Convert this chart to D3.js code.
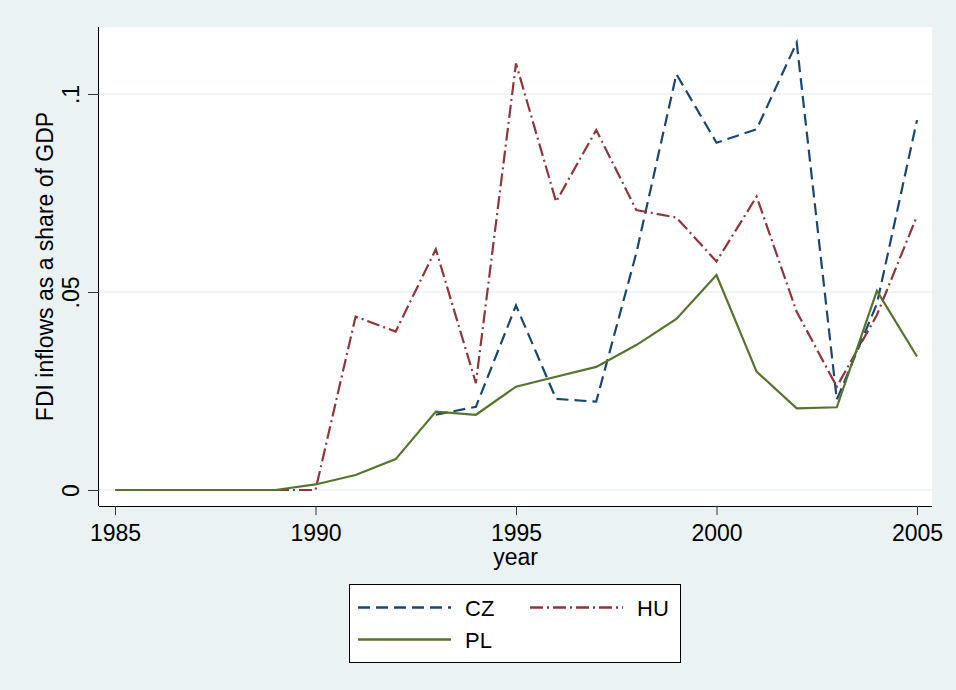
<!DOCTYPE html>
<html><head><meta charset="utf-8">
<script src="https://cdn.jsdelivr.net/npm/d3@7"></script>
<style>body{margin:0;background:#eaf2f3;} svg{display:block;}</style>
</head><body>
<svg id="c" width="956" height="690"></svg>
<script>
const years = d3.range(1985, 2006);
const czYears = [1993,1994,1995,1996,1997,1998,1999,2000,2001,2002,2003,2004,2005];
const czValues = [0.019,0.021,0.0466,0.023,0.0223,0.0598,0.105,0.0877,0.0911,0.113,0.0228,0.047,0.0934];
const huValues = [0,0,0,0,0,0,0.0438,0.040,0.0608,0.027,0.1077,0.0728,0.0909,0.0707,0.0688,0.0577,0.0741,0.045,0.0261,0.0442,0.0692];
const plValues = [0,0,0,0,0,0.0014,0.0038,0.0078,0.0198,0.019,0.0261,0.0286,0.0311,0.0366,0.0432,0.0543,0.0299,0.0206,0.0209,0.0503,0.0337];
const xTicks = [1985,1990,1995,2000,2005];
const yTicks = [0,0.05,0.1];
const yTickLabels = ["0",".05",".1"];
const seriesNames = ["CZ","HU","PL"];
const colors = {CZ:"#1a476f", HU:"#90353b", PL:"#55752f"};
const dashes = {CZ:"12,6", HU:"13,4,2,4", PL:null};

const svg = d3.select("#c");
const font = "'Liberation Sans', Arial, Helvetica, sans-serif";
const plot = {left:99, right:932, top:27, bottom:506};
const x = d3.scaleLinear().domain([1985,2005]).range([115,917]);
const y = d3.scaleLinear().domain([0,0.1]).range([490,94]);

svg.append("rect").attr("width",956).attr("height",690).attr("fill","#eaf2f3");
svg.append("rect").attr("x",plot.left).attr("y",plot.top)
  .attr("width",plot.right-plot.left).attr("height",plot.bottom-plot.top).attr("fill","#fff");

// grid
svg.append("g").selectAll("line").data(yTicks).join("line")
  .attr("x1",plot.left).attr("x2",plot.right)
  .attr("y1",d=>y(d)).attr("y2",d=>y(d))
  .attr("stroke","#eaf2f3").attr("stroke-width",1.6);

const series = [
  {name:"CZ", pts: czYears.map((yr,i)=>[yr,czValues[i]])},
  {name:"HU", pts: years.map((yr,i)=>[yr,huValues[i]])},
  {name:"PL", pts: years.map((yr,i)=>[yr,plValues[i]])}
];
const line = d3.line().x(d=>x(d[0])).y(d=>y(d[1]));
svg.append("g").selectAll("path").data(series).join("path")
  .attr("d",d=>line(d.pts)).attr("fill","none")
  .attr("stroke",d=>colors[d.name]).attr("stroke-width",2.2)
  .attr("stroke-linejoin","miter")
  .attr("stroke-dasharray",d=>dashes[d.name]);

// axes
const xAxis = svg.append("g").attr("transform",`translate(0,${plot.bottom})`)
  .call(d3.axisBottom(x).tickValues(xTicks).tickFormat(d3.format("d")).tickSize(9).tickPadding(10).tickSizeOuter(0));
xAxis.select(".domain").attr("d",`M${plot.left},0.5H${plot.right}`).attr("stroke","#000");
xAxis.selectAll(".tick line").attr("stroke","#333");
xAxis.selectAll("text").attr("font-family",font).attr("font-size",23).attr("fill","#000");

const yAxis = svg.append("g").attr("transform",`translate(${plot.left},0)`)
  .call(d3.axisLeft(y).tickValues(yTicks).tickFormat((d,i)=>yTickLabels[i]).tickSize(11).tickSizeOuter(0));
yAxis.select(".domain").attr("d",`M-0.5,${plot.top}V${plot.bottom}`).attr("stroke","#000");
yAxis.selectAll(".tick line").attr("stroke","#333");
yAxis.selectAll("text").attr("font-family",font).attr("font-size",23).attr("fill","#000")
  .attr("x",null).attr("dy",null)
  .attr("transform","translate(-20,0) rotate(-90)")
  .attr("text-anchor","middle").attr("dominant-baseline","auto");

svg.append("text").attr("x",(plot.left+plot.right)/2).attr("y",565)
  .attr("text-anchor","middle").attr("font-family",font).attr("font-size",23).text("year");
svg.append("text").attr("transform",`translate(53,${(plot.top+plot.bottom)/2}) rotate(-90)`)
  .attr("text-anchor","middle").attr("font-family",font).attr("font-size",23)
  .text("FDI inflows as a share of GDP");

// legend
const lg = svg.append("g");
lg.append("rect").attr("x",349.5).attr("y",584.5).attr("width",331).attr("height",78)
  .attr("fill","#fff").attr("stroke","#000").attr("stroke-width",1);
const legendItems = [
  {name:"CZ", x:358, y:607.5},
  {name:"HU", x:530, y:607.5},
  {name:"PL", x:358, y:639.5}
];
legendItems.forEach(it=>{
  lg.append("line").attr("x1",it.x).attr("x2",it.x+93).attr("y1",it.y).attr("y2",it.y)
    .attr("stroke",colors[it.name]).attr("stroke-width",2.4).attr("stroke-dasharray",dashes[it.name]);
  lg.append("text").attr("x",it.x+107).attr("y",it.y+8.5).attr("font-family",font).attr("font-size",22)
    .text(it.name);
});
</script>
</body></html>
